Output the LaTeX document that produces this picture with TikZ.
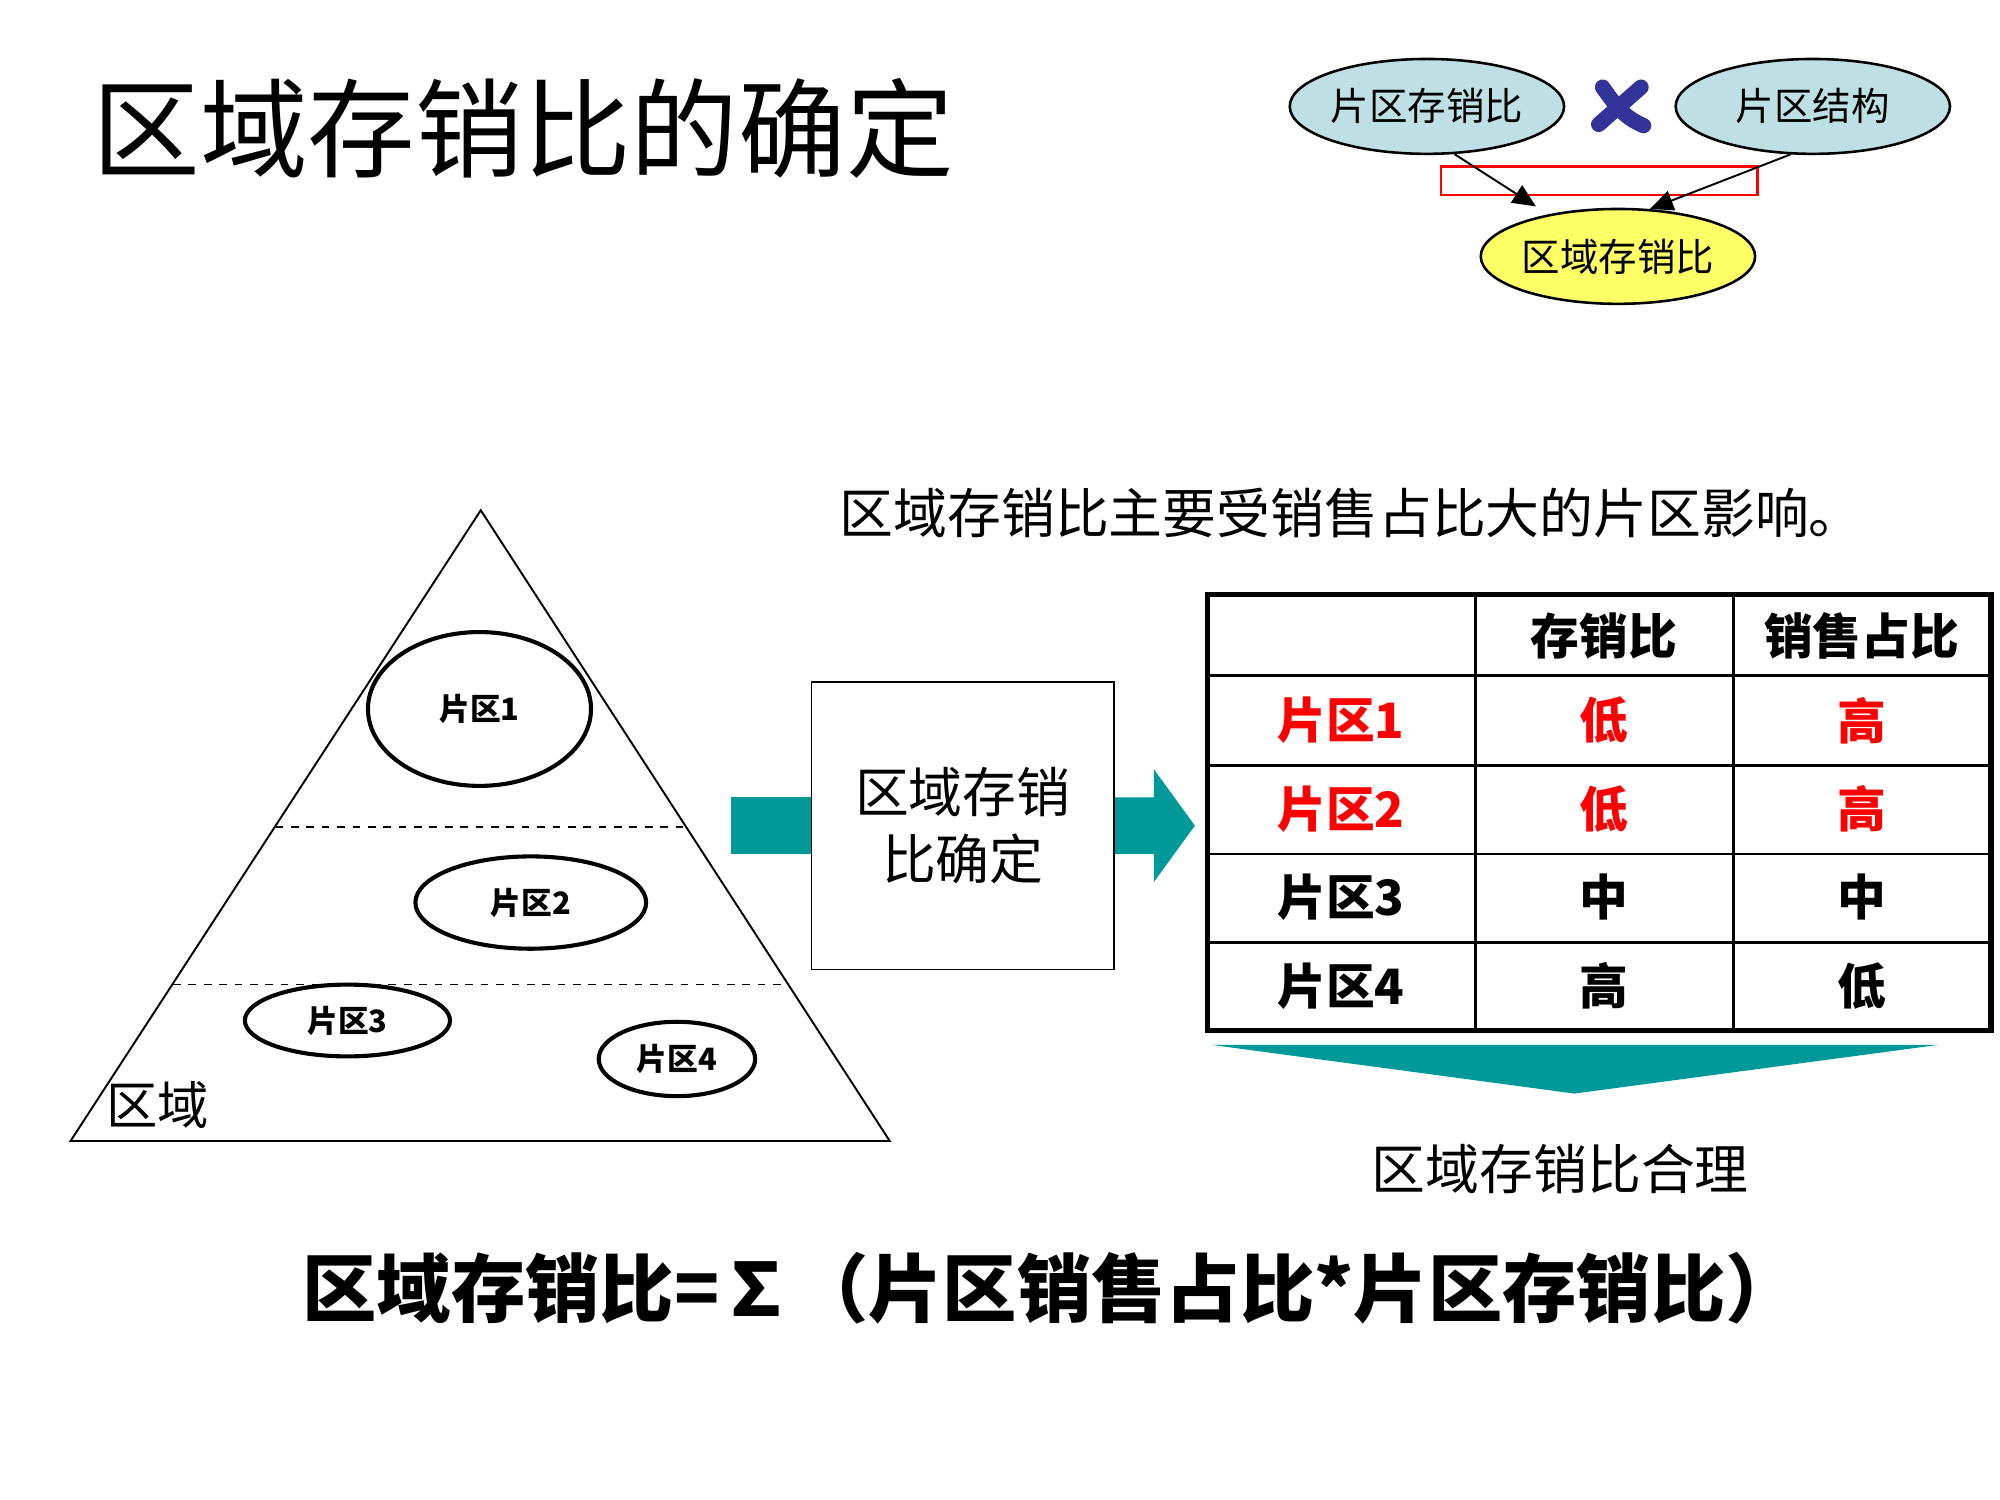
\documentclass[tikz,border=0pt]{standalone}
\usepackage{fontspec}
\setmainfont{Noto Sans CJK SC}
\usetikzlibrary{shapes.geometric,arrows.meta}
\tikzset{every picture/.style={line width=0.75pt}}
\definecolor{tealc}{RGB}{0,153,153}
\definecolor{bluec}{RGB}{190,224,228}
\definecolor{yelc}{RGB}{255,255,102}
\definecolor{navyc}{RGB}{51,51,153}
\tikzset{
  oval/.style={ellipse,draw,line width=1pt,inner sep=0pt},
  cell/.style={font=\fontsize{19}{22}\selectfont\bfseries,inner sep=0pt},
}

\begin{document}
\begin{tikzpicture}[x=0.5pt,y=0.5pt,yscale=-1,xscale=1]
        \useasboundingbox (0,0) rectangle (1560,1170);

        % Title
        \node (title) at (408,100) {\fontsize{42}{48}\selectfont 区域存销比的确定};

        % top right scheme
        \node [oval,fill=bluec,minimum width=107pt,minimum height=37pt] (pqcx) at (1113,83) {\fontsize{15}{18}\selectfont 片区存销比};
        \node [oval,fill=bluec,minimum width=107pt,minimum height=37pt] (pqjg) at (1414,83) {\fontsize{15}{18}\selectfont 片区结构};
        \node [oval,fill=yelc,minimum width=107pt,minimum height=37pt] (qycx) at (1262,200) {\fontsize{15}{18}\selectfont 区域存销比};
        \draw [navyc,line width=6pt,line cap=round] (1250,68) .. controls (1262,85) and (1268,92) .. (1282,98);
        \draw [navyc,line width=6pt,line cap=round] (1280,68) -- (1247,97);
        \draw [red,line width=1pt] (1124,130) rectangle (1371,152);
        \draw [-{Triangle[length=9,width=8]}] (pqcx.300) -- (1198,161);
        \draw [-{Triangle[length=9,width=8]}] (pqjg.245) -- (1287,163);

        % note
        \node (note) at (1054,400) {\fontsize{21}{24}\selectfont 区域存销比主要受销售占比大的片区影响。};

        % pyramid
        \draw (375,398) -- (694,890) -- (55,890) -- cycle;
        \draw [dashed,line width=0.5pt] (215,645) -- (535,645);
        \draw [dashed,line width=0.5pt] (135,768) -- (615,768);
        \node [oval,line width=1.6pt,minimum width=87pt,minimum height=60pt] (pq1) at (374,553) {\fontsize{12}{14}\selectfont\bfseries 片区1};
        \node [oval,line width=1.6pt,minimum width=90pt,minimum height=36pt] (pq2) at (414,704) {\fontsize{12}{14}\selectfont\bfseries 片区2};
        \node [oval,line width=1.6pt,minimum width=80pt,minimum height=28pt] (pq3) at (271,796) {\fontsize{12}{14}\selectfont\bfseries 片区3};
        \node [oval,line width=1.6pt,minimum width=61pt,minimum height=29pt] (pq4) at (528,826) {\fontsize{12}{14}\selectfont\bfseries 片区4};
        \node (qy) at (123,862) {\fontsize{20}{24}\selectfont 区域};

        % process
        \fill [tealc] (570,622) rectangle (633,666);
        \fill [tealc] (869,622) -- (900,622) -- (900,600) -- (932,644) -- (900,688) -- (900,666) -- (869,666) -- cycle;
        \node [draw,line width=0.5pt,minimum width=118pt,minimum height=112pt,align=center,
            font=\fontsize{21}{26}\selectfont] (proc) at (751,644) {区域存销\\比确定};

        % table
        \draw [line width=1pt] (1151,464) -- (1151,804) (1352,464) -- (1352,804);
        \foreach \y in {527,597,666,735} \draw [line width=1pt] (942,\y) -- (1553,\y);
        \draw [line width=2pt] (942,464) rectangle (1553,804);
        \node [cell] (h2) at (1251,496) {存销比};
        \node [cell] (h3) at (1452,496) {销售占比};
        \node [cell,red] (r1) at (1046,562) {片区1};
        \node [cell,red] (r1b) at (1251,562) {低};
        \node [cell,red] (r1c) at (1452,562) {高};
        \node [cell,red] (r2) at (1046,631) {片区2};
        \node [cell,red] (r2b) at (1251,631) {低};
        \node [cell,red] (r2c) at (1452,631) {高};
        \node [cell] (r3) at (1046,700) {片区3};
        \node [cell] (r3b) at (1251,700) {中};
        \node [cell] (r3c) at (1452,700) {中};
        \node [cell] (r4) at (1046,769) {片区4};
        \node [cell] (r4b) at (1251,769) {高};
        \node [cell] (r4c) at (1452,769) {低};

        % result
        \fill [tealc] (945,815) -- (1512,815) -- (1228,853) -- cycle;
        \node (res) at (1217,912) {\fontsize{21}{24}\selectfont 区域存销比合理};

        % formula
        \node (formula) at (820,1005) {\fontsize{29}{34}\selectfont\bfseries 区域存销比=∑（片区销售占比*片区存销比）};
\end{tikzpicture}
\end{document}
